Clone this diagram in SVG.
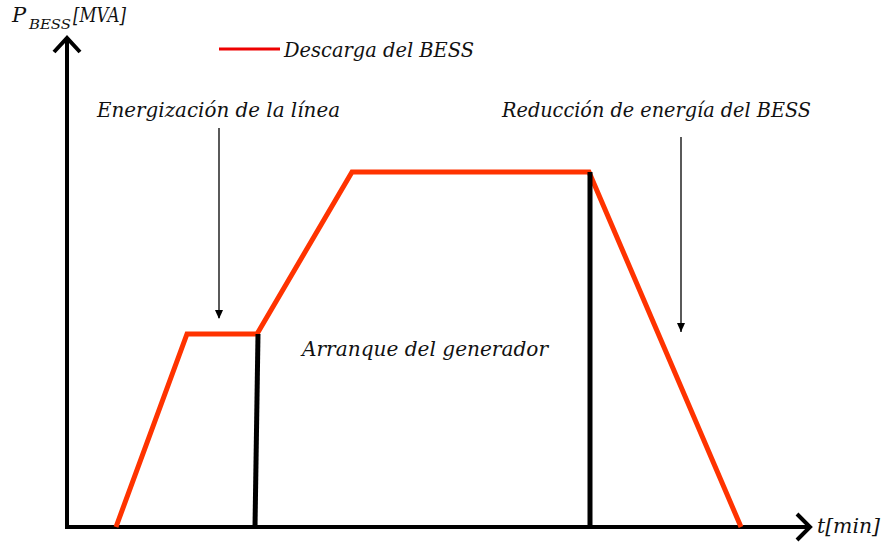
<svg xmlns="http://www.w3.org/2000/svg" width="883" height="544" viewBox="0 0 883 544">
<style>
text{font-family:"DejaVu Serif","Liberation Serif",serif;font-style:italic;fill:#111}
.lbl{font-size:20px}
.axis{stroke:#000;stroke-width:4;fill:none}
.curve{stroke:#ff3300;stroke-width:5;fill:none;stroke-linejoin:miter}
.bar{stroke:#000;stroke-width:5;fill:none}
.ptr{stroke:#000;stroke-width:1.3;fill:none}
</style>
<g id="axes">
<path class="axis" d="M67,528 V40"/>
<path class="axis" d="M54,52 L67,38 L80,52"/>
<path class="axis" d="M65,527 H808"/>
<path class="axis" d="M797,514 L810,527 L797,540"/>
<text x="12" y="22" style="font-size:21px">P</text>
<text x="29" y="29" style="font-size:13px" textLength="42" lengthAdjust="spacingAndGlyphs">BESS</text>
<text x="73" y="22" style="font-size:21px" textLength="53" lengthAdjust="spacingAndGlyphs">[MVA]</text>
<text x="817" y="533" style="font-size:20px" textLength="63" lengthAdjust="spacingAndGlyphs">t[min]</text>
</g>
<g id="legend">
<line x1="219" y1="49" x2="280" y2="49" stroke="#ee0000" stroke-width="3"/>
<text class="lbl" x="284" y="57" textLength="190" lengthAdjust="spacingAndGlyphs">Descarga del BESS</text>
</g>
<g id="connectors">
<path class="curve" d="M116,527 L187,334 L257,334 L352,172 L589,172 L741,527"/>
<path class="bar" d="M258,334 L255,527"/>
<path class="bar" d="M590,172 L590,527"/>
<path class="ptr" d="M219,128 V318"/>
<path d="M215,310 L219,319 L223,310 Z" fill="#000"/>
<path class="ptr" d="M681,137 V332"/>
<path d="M677,323 L681,332 L685,323 Z" fill="#000"/>
</g>
<g id="energizacion">
<text class="lbl" x="97" y="117" textLength="243" lengthAdjust="spacingAndGlyphs">Energización de la línea</text>
</g>
<g id="reduccion">
<text class="lbl" x="502" y="117" textLength="309" lengthAdjust="spacingAndGlyphs">Reducción de energía del BESS</text>
</g>
<g id="arranque">
<text class="lbl" x="302" y="356" textLength="246" lengthAdjust="spacingAndGlyphs">Arranque del generador</text>
</g>
</svg>
